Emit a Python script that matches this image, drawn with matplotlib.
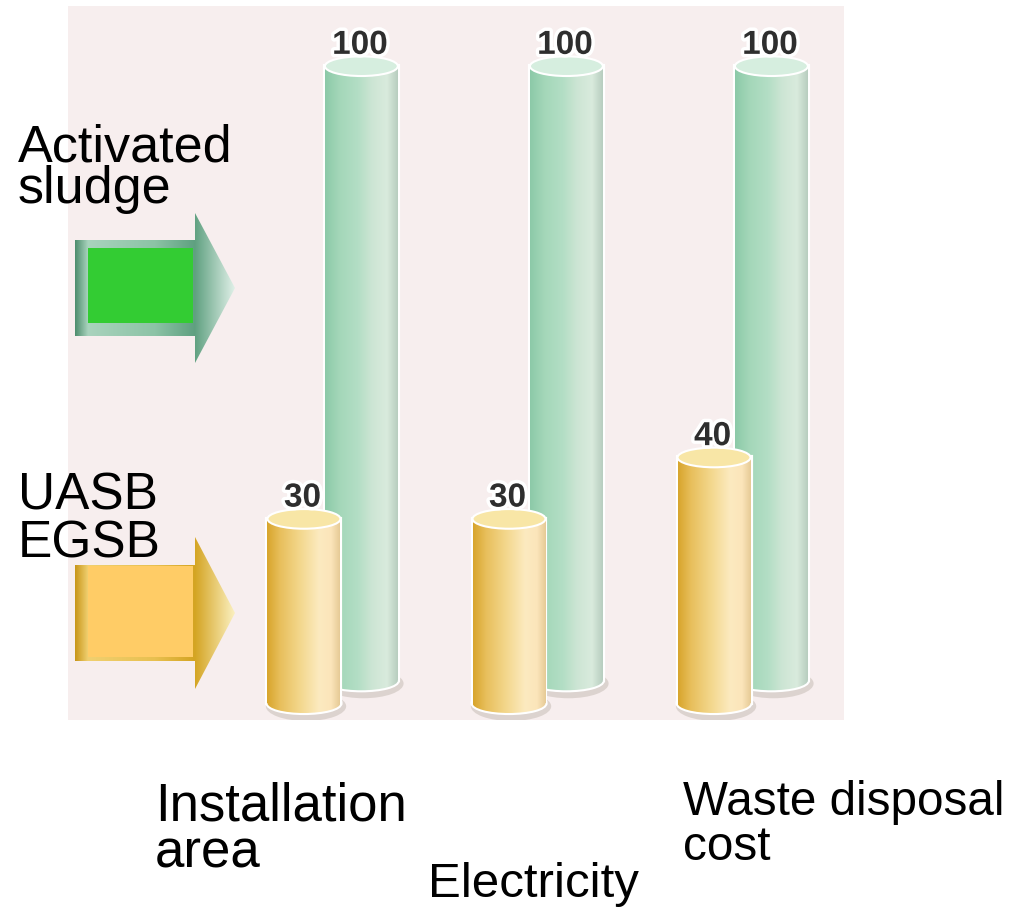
import numpy as np
import matplotlib.pyplot as plt
from matplotlib.colors import LinearSegmentedColormap
from matplotlib.patches import Ellipse, Polygon, Rectangle
import matplotlib.patheffects as pe

plt.rcParams['font.family'] = ['Liberation Sans', 'DejaVu Sans']

# data
categories = ['Installation\narea', 'Electricity', 'Waste disposal\ncost']
uasb_egsb = [30, 30, 40]
activated_sludge = [100, 100, 100]
series_names = ['Activated\nsludge', 'UASB\nEGSB']

W, H = 1019, 908
fig = plt.figure(figsize=(W / 100, H / 100), dpi=100)
fig.patch.set_facecolor('white')

# pink panel holding the cylinders
ax = fig.add_axes([68 / W, 1 - 720 / H, 776 / W, 714 / H])
ax.set_facecolor('#F7EEEE')
for s in ax.spines.values():
    s.set_visible(False)
ax.set_xticks([])
ax.set_yticks([])

yellow_cmap = LinearSegmentedColormap.from_list('yel', [
    (0, '#D8A52C'), (0.18, '#E8BF5C'), (0.45, '#F3D78C'),
    (0.72, '#FCEAC0'), (0.88, '#FBE5BA'), (1, '#E6CA96')])
green_cmap = LinearSegmentedColormap.from_list('grn', [
    (0, '#8CC9A8'), (0.2, '#A4D7B9'), (0.45, '#B3DEC5'),
    (0.65, '#CDE5D4'), (0.85, '#D9EBDD'), (1, '#B7CDBF')])
grad = np.linspace(0, 1, 256).reshape(1, -1)

x = np.arange(len(categories))
bar_w = 0.356
green_dx = 0.28
green_base = 3.7
ell_h = 3.2


def cylinders(bars, values, cmap, top_color, z):
    for b, v in zip(bars, values):
        xc = b.get_x() + b.get_width() / 2
        bottom = b.get_y()
        top = bottom + b.get_height()
        w = b.get_width()
        # soft shadow under the base
        ax.add_patch(Ellipse((xc + 0.01, bottom - 0.5), w * 1.1, ell_h * 1.5,
                             facecolor='#BDB3AA', alpha=0.45, edgecolor='none',
                             zorder=z - 0.2))
        halo = Ellipse((xc, bottom), w, ell_h, facecolor='none',
                       edgecolor='white', lw=3, zorder=z)
        ax.add_patch(halo)
        im = ax.imshow(grad, cmap=cmap, aspect='auto', interpolation='bilinear',
                       extent=(xc - w / 2, xc + w / 2, bottom - ell_h, top),
                       zorder=z + 0.1)
        im.set_clip_path(b)
        base = Ellipse((xc, bottom), w, ell_h, facecolor='none', edgecolor='none')
        ax.add_patch(base)
        im2 = ax.imshow(grad, cmap=cmap, aspect='auto', interpolation='bilinear',
                        extent=(xc - w / 2, xc + w / 2, bottom - ell_h, top),
                        zorder=z + 0.1)
        im2.set_clip_path(base)
        ax.add_patch(Ellipse((xc, top), w, ell_h, facecolor=top_color,
                             edgecolor='#FFFFFF', lw=1.5, zorder=z + 0.2))
        ax.annotate(f'{v}', (xc, top), xytext=(-1, 15), textcoords='offset points',
                    ha='center', va='center', fontsize=24, fontweight='bold',
                    color='#2E2E2E', zorder=20,
                    path_effects=[pe.withStroke(linewidth=5, foreground='white')])


green_bars = ax.bar(x + green_dx, activated_sludge, bar_w, bottom=green_base,
                    facecolor='none', edgecolor='white', linewidth=3, zorder=2)
cylinders(green_bars, activated_sludge, green_cmap, '#D6EEDF', 2)

yellow_bars = ax.bar(x, uasb_egsb, bar_w, bottom=0,
                     facecolor='none', edgecolor='white', linewidth=3, zorder=5)
cylinders(yellow_bars, uasb_egsb, yellow_cmap, '#F8E6A6', 5)

ax.set_xlim(-1.151, 2.634)
ax.set_ylim(-2.74, 113.5)

# overlay in pixel units for the legend arrows and texts
ov = fig.add_axes([0, 0, 1, 1], zorder=3)
ov.set_xlim(0, W)
ov.set_ylim(H, 0)
ov.axis('off')

green_arrow = LinearSegmentedColormap.from_list('ga', [
    (0, '#4E8E6E'), (0.08, '#A9D3BD'), (0.5, '#8CC3A6'),
    (0.75, '#5FA080'), (1, '#E0F0E8')])
yellow_arrow = LinearSegmentedColormap.from_list('ya', [
    (0, '#C8961A'), (0.08, '#F0D070'), (0.5, '#E8C050'),
    (0.75, '#D4A422'), (1, '#FBF0C0')])


def legend_arrow(y_mid, half_shaft, half_head, cmap, square_color, sq_top, sq_bot):
    pts = [(75, y_mid - half_shaft), (195, y_mid - half_shaft), (195, y_mid - half_head),
           (235, y_mid), (195, y_mid + half_head), (195, y_mid + half_shaft),
           (75, y_mid + half_shaft)]
    poly = Polygon(pts, closed=True, facecolor='none', edgecolor='none')
    ov.add_patch(poly)
    im = ov.imshow(grad, cmap=cmap, aspect='auto', interpolation='bilinear',
                   extent=(75, 235, y_mid + half_head, y_mid - half_head))
    im.set_clip_path(poly)
    ov.add_patch(Rectangle((88, sq_top), 105, sq_bot - sq_top,
                           facecolor=square_color, edgecolor='none', zorder=4))


legend_arrow(288, 48, 75, green_arrow, '#33CC33', 248, 323)
legend_arrow(613, 48, 76, yellow_arrow, '#FFCC66', 566, 657)
ov.set_xlim(0, W)
ov.set_ylim(H, 0)

# series names, anchored at the baseline of the last line
ov.text(18, 203, series_names[0], fontsize=37.5, linespacing=0.81,
        ha='left', va='baseline', color='black')
ov.text(18, 557, series_names[1], fontsize=37, linespacing=0.97,
        ha='left', va='baseline', color='black')

# category names under the panel
cat_pos = [(155, 868), (428, 897), (683, 860)]
cat_size = [38, 35.5, 34.3]
cat_spacing = [0.945, 1.0, 1.0]
for cat, (px, py), fs, ls in zip(categories, cat_pos, cat_size, cat_spacing):
    ov.text(px, py, cat, fontsize=fs, linespacing=ls,
            ha='left', va='baseline', color='black')

fig.savefig('out.png', dpi=100)
